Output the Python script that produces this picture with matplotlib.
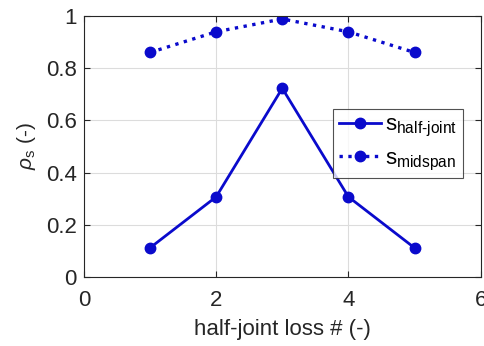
import matplotlib
matplotlib.use("Agg")
import matplotlib.pyplot as plt

plt.rcParams["font.family"] = ["Liberation Sans", "DejaVu Sans"]
plt.rcParams["mathtext.fontset"] = "custom"
plt.rcParams["mathtext.rm"] = "Liberation Sans"
plt.rcParams["mathtext.it"] = "Liberation Sans:italic"

BLUE = "#0a0acc"
loss = [1, 2, 3, 4, 5]
s_half_joint = [0.112, 0.307, 0.722, 0.307, 0.112]
s_midspan = [0.859, 0.938, 0.987, 0.938, 0.859]

fig = plt.figure(figsize=(4.85, 3.46), dpi=100)
ax = fig.add_axes([0.173, 0.199, 0.818, 0.756])
ax.plot(loss, s_half_joint, "-o", color=BLUE, lw=2, ms=7.5,
        label=r"s$_{\text{half-joint}}$")
ax.plot(loss, s_midspan, ":o", color=BLUE, lw=2.4, ms=7.5,
        label=r"s$_{\text{midspan}}$")
ax.set_xlim(0, 6)
ax.set_ylim(0, 1)
ax.set_xticks([0, 2, 4, 6])
ax.set_yticks([0, 0.2, 0.4, 0.6, 0.8, 1])
ax.set_yticklabels(["0", "0.2", "0.4", "0.6", "0.8", "1"])
ax.grid(True, color="#dcdcdc", lw=0.8)
ax.set_axisbelow(True)
ax.tick_params(direction="in", top=True, right=True, labelsize=16,
               colors="#262626", length=4)
ax.tick_params(axis="x", pad=9)
ax.tick_params(axis="y", pad=5)
for s in ax.spines.values():
    s.set_color("#262626")
    s.set_linewidth(0.8)
ax.set_xlabel("half-joint loss # (-)", fontsize=16, color="#262626", labelpad=6)
ax.set_ylabel(r"$\rho_{\rm s}$ (-)", fontsize=15, color="#262626", labelpad=6)
leg = ax.legend(loc="upper left", bbox_to_anchor=(0.628, 0.642), fontsize=16,
                frameon=True, fancybox=False, edgecolor="#262626",
                handlelength=1.9, borderpad=0.25, labelspacing=0.4,
                handletextpad=0.2, borderaxespad=0)
leg.get_frame().set_linewidth(0.8)
fig.savefig("out.png", dpi=100)
